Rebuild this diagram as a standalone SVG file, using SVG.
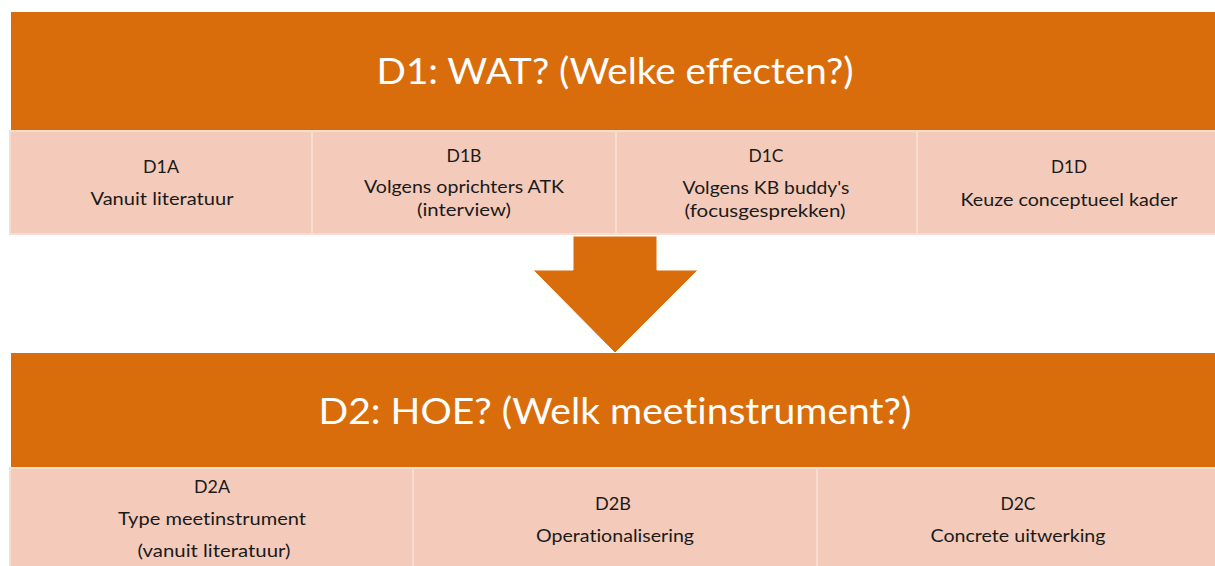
<svg xmlns="http://www.w3.org/2000/svg" width="1215" height="566" viewBox="0 0 1215 566">
<style>
.bar{fill:#D96D0C;}
.cell{fill:#F4CBBA;stroke:#F8DCD0;stroke-width:2;}
text{font-variant-ligatures:none;}
.title{font-family:Lato,"Liberation Sans",sans-serif;font-size:37px;fill:#FFFFFF;text-anchor:middle;}
.t{font-family:Lato,"Liberation Sans",sans-serif;font-size:16.5px;fill:#1A1A1A;text-anchor:middle;}
.arrow{fill:#D96D0C;stroke:#FFFFFF;stroke-width:1;}
</style>
<rect width="1215" height="566" fill="#FFFFFF"/>
<g id="D1">
<rect class="bar" x="11" y="12" width="1210" height="118"/>
<text class="title" x="615" y="84" textLength="477" lengthAdjust="spacingAndGlyphs">D1: WAT? (Welke effecten?)</text>
</g>
<g id="D1A">
<rect class="cell" x="10" y="131" width="302" height="103"/>
<text class="t" x="161" y="173" textLength="36" lengthAdjust="spacingAndGlyphs">D1A</text>
<text class="t" x="162" y="205" textLength="143" lengthAdjust="spacingAndGlyphs">Vanuit literatuur</text>
</g>
<g id="D1B">
<rect class="cell" x="312" y="131" width="304" height="103"/>
<text class="t" x="464" y="162" textLength="35" lengthAdjust="spacingAndGlyphs">D1B</text>
<text class="t" x="464" y="193" textLength="200" lengthAdjust="spacingAndGlyphs">Volgens oprichters ATK</text>
<text class="t" x="464" y="216" textLength="94" lengthAdjust="spacingAndGlyphs">(interview)</text>
</g>
<g id="D1C">
<rect class="cell" x="616" y="131" width="301" height="103"/>
<text class="t" x="766" y="162" textLength="35" lengthAdjust="spacingAndGlyphs">D1C</text>
<text class="t" x="766" y="194" textLength="167" lengthAdjust="spacingAndGlyphs">Volgens KB buddy's</text>
<text class="t" x="765" y="217" textLength="161" lengthAdjust="spacingAndGlyphs">(focusgesprekken)</text>
</g>
<g id="D1D">
<rect class="cell" x="917" y="131" width="302" height="103"/>
<text class="t" x="1069" y="173" textLength="36" lengthAdjust="spacingAndGlyphs">D1D</text>
<text class="t" x="1069" y="206" textLength="217" lengthAdjust="spacingAndGlyphs">Keuze conceptueel kader</text>
</g>
<g id="connectors">
<polygon class="arrow" points="573,236 657,236 657,270 698,270 615,353 533,270 573,270"/>
</g>
<g id="D2">
<rect class="bar" x="11" y="353" width="1210" height="114"/>
<text class="title" x="615" y="424" textLength="593" lengthAdjust="spacingAndGlyphs">D2: HOE? (Welk meetinstrument?)</text>
</g>
<g id="D2A">
<rect class="cell" x="10" y="468" width="403" height="102"/>
<text class="t" x="212" y="493" textLength="36" lengthAdjust="spacingAndGlyphs">D2A</text>
<text class="t" x="212" y="525" textLength="188" lengthAdjust="spacingAndGlyphs">Type meetinstrument</text>
<text class="t" x="214" y="557" textLength="153" lengthAdjust="spacingAndGlyphs">(vanuit literatuur)</text>
</g>
<g id="D2B">
<rect class="cell" x="413" y="468" width="404" height="102"/>
<text class="t" x="613" y="510" textLength="36" lengthAdjust="spacingAndGlyphs">D2B</text>
<text class="t" x="615" y="542" textLength="158" lengthAdjust="spacingAndGlyphs">Operationalisering</text>
</g>
<g id="D2C">
<rect class="cell" x="817" y="468" width="402" height="102"/>
<text class="t" x="1018" y="510" textLength="35" lengthAdjust="spacingAndGlyphs">D2C</text>
<text class="t" x="1018" y="542" textLength="175" lengthAdjust="spacingAndGlyphs">Concrete uitwerking</text>
</g>
</svg>
